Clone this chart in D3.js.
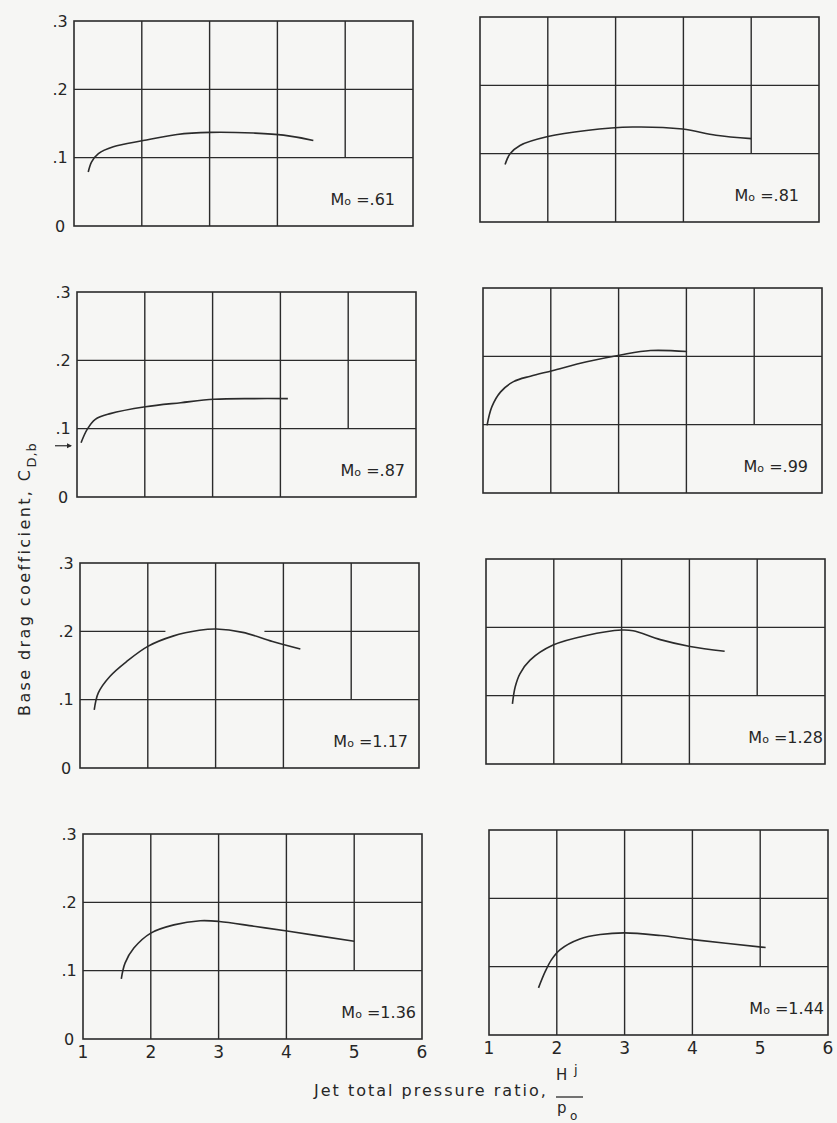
<!DOCTYPE html>
<html>
<head>
<meta charset="utf-8">
<script src="https://cdn.jsdelivr.net/npm/d3@7"></script>
<style>
  html, body { margin: 0; padding: 0; background: #f6f6f4; }
  svg { display: block; }
  text { font-family: "DejaVu Sans", sans-serif; fill: #262626; }
</style>
</head>
<body>
<script>
// axis values
const xTicks = [1, 2, 3, 4, 5, 6];
const yTicks = [0, 0.1, 0.2, 0.3];
const yTickLabels = ["0", ".1", ".2", ".3"];

// free-stream Mach number for each panel
const machLabels = [".61", ".81", ".87", ".99", "1.17", "1.28", "1.36", "1.44"];

// base drag coefficient vs jet total pressure ratio
const curve61 = [[1.21, 0.079], [1.26, 0.094], [1.36, 0.106], [1.58, 0.116], [2.02, 0.125],
  [2.52, 0.134], [3.01, 0.137], [3.65, 0.136], [4.09, 0.133], [4.53, 0.125]];
const curve81 = [[1.37, 0.084], [1.44, 0.0995], [1.59, 0.112], [2.0, 0.125], [2.57, 0.134],
  [3.25, 0.139], [3.99, 0.136], [4.48, 0.127], [5.0, 0.122]];
const curve87 = [[1.06, 0.0795], [1.15, 0.099], [1.27, 0.1137], [1.49, 0.122], [2.01, 0.132],
  [2.53, 0.138], [3.02, 0.143], [3.61, 0.144], [4.11, 0.144]];
const curve99 = [[1.06, 0.099], [1.13, 0.126], [1.26, 0.148], [1.45, 0.163], [1.70, 0.171],
  [2.02, 0.179], [2.53, 0.192], [3.03, 0.202], [3.47, 0.2085], [4.01, 0.207]];
const curve117 = [[1.21, 0.085], [1.27, 0.11], [1.44, 0.134], [1.69, 0.156], [2.0, 0.178],
  [2.37, 0.193], [2.76, 0.2015], [3.01, 0.2034], [3.40, 0.1985], [3.84, 0.185], [4.25, 0.174]];
const curve128 = [[1.39, 0.088], [1.43, 0.1126], [1.50, 0.132], [1.65, 0.152], [1.99, 0.174],
  [2.48, 0.188], [3.0, 0.196], [3.17, 0.195], [3.57, 0.182], [4.01, 0.172], [4.52, 0.165]];
const curve136 = [[1.565, 0.088], [1.62, 0.111], [1.75, 0.133], [2.0, 0.155], [2.34, 0.167],
  [2.73, 0.173], [3.01, 0.172], [3.52, 0.165], [4.01, 0.158], [5.0, 0.143]];
const curve144 = [[1.73, 0.069], [1.83, 0.093], [1.92, 0.11], [2.05, 0.125], [2.34, 0.1406],
  [2.64, 0.147], [3.0, 0.1495], [3.53, 0.1455], [4.01, 0.1396], [5.08, 0.128]];

const curves = [curve61, curve81, curve87, curve99, curve117, curve128, curve136, curve144];

// breaks in the .2 grid line of the M=1.17 panel: [y, xFrom, xTo]
const gridGaps117 = [[0.2, 2.26, 3.72]];

const width = 837;
const height = 1123;
const panelW = 339;
const panelH = 205;
const labelPad = [18, 20, 11, 14, 11, 2, 6, 4];
const ink = "#2b2b2b";

const svg = d3.select("body")
  .append("svg")
  .attr("width", width)
  .attr("height", height);

function drawPanel(i) {
  const col = i % 2;
  const row = Math.floor(i / 2);
  const left = (col ? 480 : 74) + 3 * row;
  const top = (col ? 17 : 21) + 271 * row;

  const x = d3.scaleLinear().domain([1, 6]).range([0, panelW]);
  const y = d3.scaleLinear().domain([0, 0.3]).range([panelH, 0]);

  const g = svg.append("g").attr("transform", `translate(${left},${top})`);

  // grid: full verticals at 2..4, the one at 5 stops at .1 to leave room for the label
  g.selectAll(".vgrid")
    .data(xTicks.slice(1, 5))
    .enter()
    .append("line")
    .attr("x1", d => x(d))
    .attr("x2", d => x(d))
    .attr("y1", d => d === 5 ? y(0.1) : y(0))
    .attr("y2", y(0.3))
    .style("stroke", ink)
    .style("stroke-width", 1.4);

  const gaps = i === 4 ? gridGaps117 : [];
  yTicks.slice(1, 3).forEach(v => {
    const gap = gaps.find(d => d[0] === v);
    const pieces = gap ? [[1, gap[1]], [gap[2], 6]] : [[1, 6]];
    pieces.forEach(p => {
      g.append("line")
        .attr("x1", x(p[0]))
        .attr("x2", x(p[1]))
        .attr("y1", y(v))
        .attr("y2", y(v))
        .style("stroke", ink)
        .style("stroke-width", 1.4);
    });
  });

  g.append("rect")
    .attr("width", panelW)
    .attr("height", panelH)
    .style("fill", "none")
    .style("stroke", ink)
    .style("stroke-width", 1.6);

  const line = d3.line()
    .x(d => x(d[0]))
    .y(d => y(d[1]))
    .curve(d3.curveCatmullRom.alpha(0.5));

  g.append("path")
    .datum(curves[i])
    .attr("d", line)
    .style("fill", "none")
    .style("stroke", ink)
    .style("stroke-width", 1.6);

  // Mach label
  const lab = g.append("text")
    .attr("x", panelW - labelPad[i])
    .attr("y", panelH - 21)
    .attr("text-anchor", "end")
    .style("font-size", "16px");
  lab.append("tspan").text("M");
  lab.append("tspan").style("font-size", "11px").text("o");
  lab.append("tspan").text(" =" + machLabels[i]);

  // y tick labels on the left column only
  if (col === 0) {
    g.selectAll(".ytick")
      .data(yTicks)
      .enter()
      .append("text")
      .attr("x", -14)
      .attr("y", d => y(d))
      .attr("dy", "0.36em")
      .attr("text-anchor", "middle")
      .style("font-size", "16px")
      .text((d, k) => yTickLabels[k]);
  }

  // little arrow under .1 on the M=.87 panel
  if (i === 2) {
    g.append("line")
      .attr("x1", -22).attr("x2", -6)
      .attr("y1", y(0.075)).attr("y2", y(0.075))
      .style("stroke", ink).style("stroke-width", 1.2);
    g.append("path")
      .attr("d", `M-5,${y(0.075)} l-5,-2.5 l0,5 z`)
      .style("fill", ink);
  }

  // x tick labels on the bottom row only
  if (row === 3) {
    g.selectAll(".xtick")
      .data(xTicks)
      .enter()
      .append("text")
      .attr("x", d => x(d))
      .attr("y", panelH + 19)
      .attr("text-anchor", "middle")
      .style("font-size", "17px")
      .text(d => d);
  }
}

machLabels.forEach((m, i) => drawPanel(i));

// y axis title
const yTitle = svg.append("text")
  .attr("transform", "translate(30,716) rotate(-90)")
  .style("font-size", "16px")
  .style("letter-spacing", "2.4px");
yTitle.append("tspan").text("Base drag coefficient, C");
yTitle.append("tspan").attr("dy", 6).style("font-size", "13px").style("letter-spacing", "1px").text("D,b");

// x axis title with the H_j / p_o fraction
svg.append("text")
  .attr("x", 314)
  .attr("y", 1096)
  .style("font-size", "16px")
  .style("letter-spacing", "2px")
  .text("Jet total pressure ratio,");

svg.append("text").attr("x", 556).attr("y", 1080).style("font-size", "15px").text("H");
svg.append("text").attr("x", 574).attr("y", 1074).style("font-size", "13px").text("j");
svg.append("line")
  .attr("x1", 556).attr("x2", 583)
  .attr("y1", 1097).attr("y2", 1097)
  .style("stroke", ink).style("stroke-width", 1.3);
svg.append("text").attr("x", 557).attr("y", 1113).style("font-size", "15px").text("p");
svg.append("text").attr("x", 570).attr("y", 1120).style("font-size", "12px").text("o");
</script>
</body>
</html>
